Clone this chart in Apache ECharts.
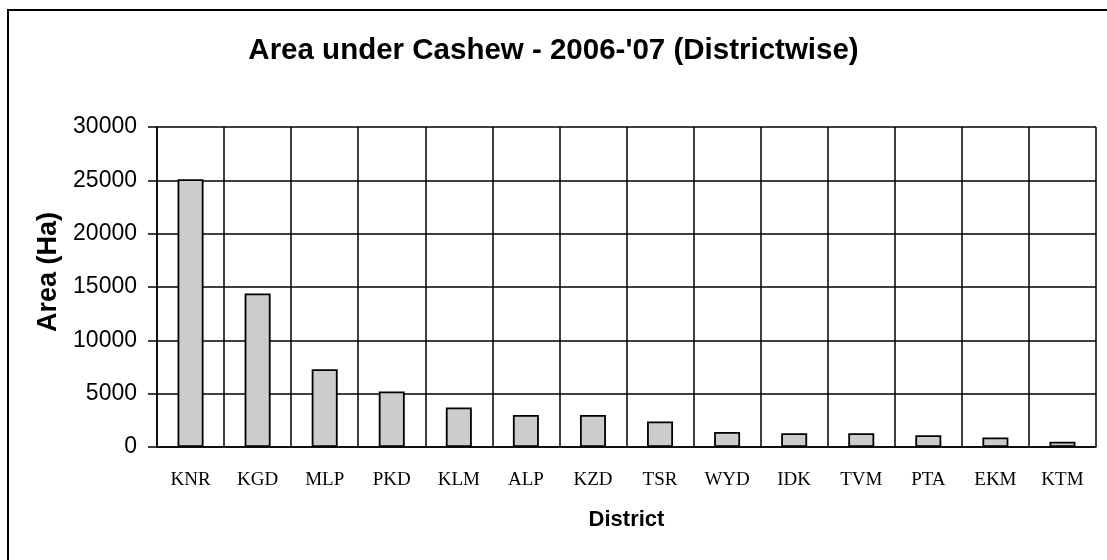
<!DOCTYPE html>
<html>
<head>
<meta charset="utf-8">
<script src="https://cdn.jsdelivr.net/npm/echarts@6/dist/echarts.min.js"></script>
<style>
  html, body { margin: 0; padding: 0; background: #fff; }
  #echart { width: 1107px; height: 560px; }
</style>
</head>
<body>
<div id="echart"></div>
<script>
// 数据
const districts = ['KNR', 'KGD', 'MLP', 'PKD', 'KLM', 'ALP', 'KZD', 'TSR', 'WYD', 'IDK', 'TVM', 'PTA', 'EKM', 'KTM'];
const areaHa = [25100, 14400, 7300, 5200, 3700, 3000, 3000, 2400, 1400, 1300, 1300, 1100, 900, 500];
const yTicks = { min: 0, max: 30000, step: 5000 };

let echart = echarts.init(document.getElementById('echart'));

let option = {
    animation: false,
    backgroundColor: '#fff',
    title: {
        text: "Area under Cashew - 2006-'07 (Districtwise)",
        left: 'center',
        top: 31,
        textStyle: {
            fontFamily: 'Liberation Sans',
            fontWeight: 'bold',
            fontSize: 29.5,
            color: '#000'
        }
    },
    // 外框
    graphic: [{
        type: 'rect',
        shape: { x: 8, y: 10, width: 1120, height: 580 },
        style: { fill: null, stroke: '#000', lineWidth: 2 },
        silent: true
    }],
    grid: {
        left: 157,
        right: 11,
        top: 127,
        bottom: 113
    },
    xAxis: {
        type: 'category',
        data: districts,
        name: 'District',
        nameLocation: 'middle',
        nameGap: 62,
        nameTextStyle: {
            fontFamily: 'Liberation Sans',
            fontWeight: 'bold',
            fontSize: 22,
            color: '#000'
        },
        axisLine: { lineStyle: { color: '#000', width: 1.5 } },
        axisTick: { length: 6, lineStyle: { color: '#000', width: 1.5 } },
        axisLabel: {
            margin: 24,
            fontFamily: 'Liberation Serif',
            fontSize: 19,
            color: '#000'
        },
        splitLine: { show: true, lineStyle: { color: '#000', width: 1.5 } }
    },
    yAxis: {
        type: 'value',
        min: yTicks.min,
        max: yTicks.max,
        interval: yTicks.step,
        name: 'Area (Ha)',
        nameLocation: 'middle',
        nameGap: 91,
        nameTextStyle: {
            fontFamily: 'Liberation Sans',
            fontWeight: 'bold',
            fontSize: 27,
            color: '#000',
            padding: [0, 0, 0, 30]
        },
        axisLine: { show: true, lineStyle: { color: '#000', width: 1.5 } },
        axisTick: { show: true, length: 9, lineStyle: { color: '#000', width: 1.5 } },
        axisLabel: {
            margin: 20,
            fontFamily: 'Liberation Sans',
            fontSize: 23,
            color: '#000',
            formatter: v => String(v)
        },
        splitLine: { show: true, lineStyle: { color: '#000', width: 1.5 } }
    },
    series: [{
        type: 'bar',
        data: areaHa,
        barWidth: 26,
        itemStyle: {
            color: '#cccccc',
            borderColor: '#000',
            borderWidth: 1.8
        }
    }]
};

echart.setOption(option);
</script>
</body>
</html>
